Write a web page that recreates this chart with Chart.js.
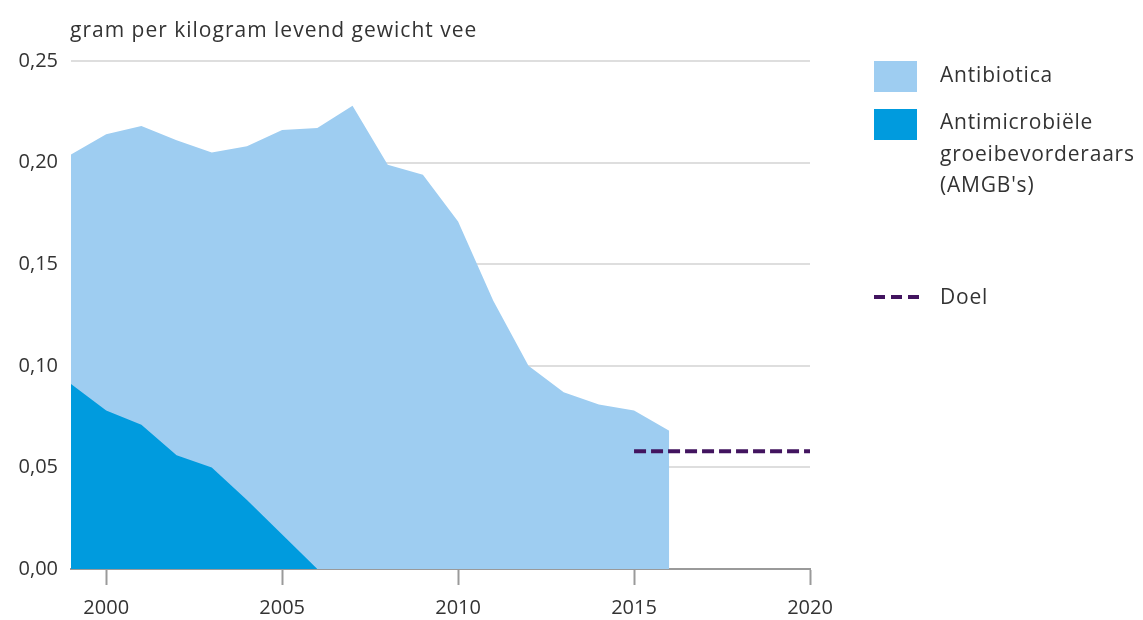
<!DOCTYPE html>
<html>
<head>
<meta charset="utf-8">
<script src="https://cdn.jsdelivr.net/npm/chart.js@4.4.1/dist/chart.umd.min.js"></script>
<style>
  html, body { margin: 0; padding: 0; background: #fff; }
  body { width: 1143px; height: 620px; position: relative; overflow: hidden;
         font-family: "Open Sans", Lato, sans-serif; color: #333; }
  #wrap { position: absolute; left: 0; top: 0; width: 1143px; height: 620px; }
  .title { position: absolute; left: 70px; top: 15px; font-size: 21px; letter-spacing: 1px; color: #333; }
  .legend { position: absolute; left: 874px; top: 0; font-size: 21px; letter-spacing: 0.8px; color: #333; }
  .swatch { position: absolute; left: 0; width: 43px; height: 31px; }
  .label { position: absolute; left: 66px; line-height: 31.5px; white-space: nowrap; }
  .dash { position: absolute; left: 0; width: 45px; height: 4px;
          background: repeating-linear-gradient(to right, #42145f 0 11px, transparent 11px 17px); }
</style>
</head>
<body>
<div id="wrap"><canvas id="chart" width="1143" height="620"></canvas></div>
<div class="title">gram per kilogram levend gewicht vee</div>
<div class="legend">
  <div class="swatch" style="top:61px; background:#9ecdf1"></div>
  <div class="label" style="top:59px">Antibiotica</div>
  <div class="swatch" style="top:109px; background:#009bde"></div>
  <div class="label" style="top:106px">Antimicrobiële<br>groeibevorderaars<br>(AMGB's)</div>
  <div class="dash" style="top:295px"></div>
  <div class="label" style="top:281px">Doel</div>
</div>
<script>
// Data
const years = [1999, 2000, 2001, 2002, 2003, 2004, 2005, 2006, 2007, 2008,
  2009, 2010, 2011, 2012, 2013, 2014, 2015, 2016];
const antibiotica = [0.204, 0.214, 0.218, 0.211, 0.205, 0.208, 0.216, 0.217, 0.228, 0.199,
  0.194, 0.171, 0.132, 0.100, 0.087, 0.081, 0.078, 0.068];
const amgbYears = [1999, 2000, 2001, 2002, 2003, 2004, 2005, 2006];
const amgb = [0.091, 0.078, 0.071, 0.056, 0.050, 0.034, 0.017, 0.0];
const doelYears = [2015, 2020];
const doel = [0.058, 0.058];
const xTicks = [2000, 2005, 2010, 2015, 2020];
const yTicks = [0, 0.05, 0.10, 0.15, 0.20, 0.25];

const toPoints = (xs, ys) => xs.map((x, i) => ({ x: x, y: ys[i] }));

const ctx = document.getElementById('chart').getContext('2d');
Chart.defaults.font.family = '"Open Sans", Lato, sans-serif';
Chart.defaults.color = '#333';

new Chart(ctx, {
  type: 'line',
  data: {
    datasets: [{
      label: 'Doel',
      data: toPoints(doelYears, doel),
      borderColor: '#42145f',
      borderWidth: 4,
      borderDash: [12, 5],
      pointRadius: 0,
      fill: false,
      order: 0
    }, {
      label: "Antimicrobiële groeibevorderaars (AMGB's)",
      data: toPoints(amgbYears, amgb),
      borderWidth: 0,
      borderColor: 'rgba(0,0,0,0)',
      backgroundColor: '#009bde',
      pointRadius: 0,
      fill: 'origin',
      order: 1
    }, {
      label: 'Antibiotica',
      data: toPoints(years, antibiotica),
      borderWidth: 0,
      borderColor: 'rgba(0,0,0,0)',
      backgroundColor: '#9ecdf1',
      pointRadius: 0,
      fill: 'origin',
      order: 2
    }]
  },
  options: {
    responsive: false,
    animation: false,
    layout: { padding: { left: 0, right: 333, top: 61, bottom: 0 } },
    plugins: {
      legend: { display: false },
      tooltip: { enabled: false }
    },
    scales: {
      x: {
        type: 'linear',
        min: 1999,
        max: 2020,
        afterBuildTicks: axis => { axis.ticks = xTicks.map(v => ({ value: v })); },
        afterFit: axis => { axis.height = 51; },
        ticks: {
          font: { size: 20 },
          color: '#333',
          padding: 11,
          maxRotation: 0,
          callback: v => String(v)
        },
        grid: {
          drawOnChartArea: false,
          drawTicks: true,
          tickLength: 16,
          tickWidth: 2,
          color: '#9a9a9a'
        },
        border: { display: true, color: '#9a9a9a', width: 2 }
      },
      y: {
        min: 0,
        max: 0.25,
        afterBuildTicks: axis => { axis.ticks = yTicks.map(v => ({ value: v })); },
        afterFit: axis => { axis.width = 71; },
        ticks: {
          font: { size: 20 },
          color: '#333',
          padding: 13,
          callback: v => v.toFixed(2).replace('.', ',')
        },
        grid: {
          drawTicks: false,
          lineWidth: 2,
          color: ctx => ctx.tick.value === 0 ? 'rgba(0,0,0,0)' : '#dedede'
        },
        border: { display: false }
      }
    }
  }
});
</script>
</body>
</html>
